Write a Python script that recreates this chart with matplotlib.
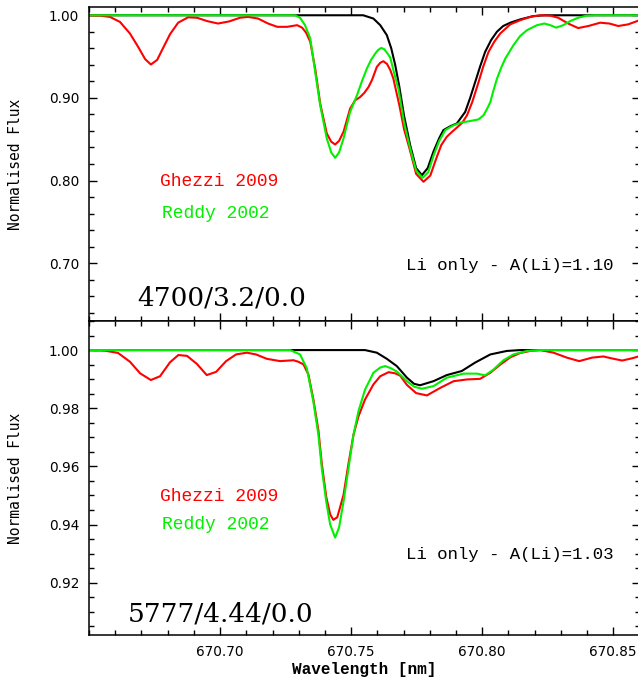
import matplotlib.pyplot as plt
from matplotlib.ticker import MultipleLocator, FormatStrFormatter

# --- top panel: 4700/3.2/0.0 ---
top_li_wl = [670.6500, 670.7546, 670.7585, 670.7611, 670.7636, 670.7653, 670.7668,
             670.7683, 670.7702, 670.7725, 670.7748, 670.7770, 670.7792, 670.7814,
             670.7837, 670.7852, 670.7880, 670.7903, 670.7935, 670.7954, 670.7973,
             670.7992, 670.8011, 670.8034, 670.8056, 670.8080, 670.8107, 670.8145,
             670.8195, 670.8240, 670.8600]
top_li_flux = [1.000, 1.000, 0.996, 0.988, 0.976, 0.960, 0.940,
               0.915, 0.878, 0.843, 0.815, 0.8065, 0.815, 0.835,
               0.852, 0.861, 0.866, 0.869, 0.883, 0.900, 0.919,
               0.938, 0.9556, 0.970, 0.980, 0.987, 0.991, 0.995,
               0.999, 1.000, 1.000]

top_ghezzi_wl = [670.6500, 670.6542, 670.6580, 670.6618, 670.6656, 670.6687, 670.6714,
                 670.6736, 670.6760, 670.6782, 670.6809, 670.6840, 670.6878, 670.6912,
                 670.6950, 670.6992, 670.7034, 670.7076, 670.7107, 670.7145, 670.7183,
                 670.7218, 670.7256, 670.7294, 670.7313, 670.7328, 670.7344, 670.7363,
                 670.7382, 670.7407, 670.7424, 670.7439, 670.7454, 670.7471, 670.7496,
                 670.7515, 670.7534, 670.7550, 670.7566, 670.7580, 670.7598, 670.7611,
                 670.7623, 670.7637, 670.7649, 670.7661, 670.7674, 670.7684, 670.7702,
                 670.7725, 670.7748, 670.7776, 670.7802, 670.7827, 670.7844, 670.7865,
                 670.7885, 670.7903, 670.7924, 670.7942, 670.7962, 670.7986, 670.8004,
                 670.8024, 670.8046, 670.8069, 670.8107, 670.8145, 670.8183, 670.8221,
                 670.8260, 670.8290, 670.8328, 670.8366, 670.8405, 670.8450, 670.8485,
                 670.8519, 670.8557, 670.8600]
top_ghezzi_flux = [1.000, 0.9995, 0.998, 0.992, 0.978, 0.962, 0.947,
                   0.9404, 0.946, 0.960, 0.977, 0.991, 0.9975, 0.997,
                   0.993, 0.990, 0.9925, 0.997, 0.998, 0.996, 0.990,
                   0.986, 0.986, 0.988, 0.985, 0.979, 0.968, 0.935,
                   0.893, 0.857, 0.847, 0.8436, 0.848, 0.859, 0.887,
                   0.897, 0.901, 0.906, 0.913, 0.922, 0.9375, 0.9425,
                   0.9444, 0.941, 0.934, 0.9234, 0.905, 0.891, 0.862,
                   0.836, 0.808, 0.7985, 0.806, 0.8287, 0.843, 0.853,
                   0.859, 0.864, 0.870, 0.879, 0.895, 0.919, 0.938,
                   0.9556, 0.968, 0.978, 0.989, 0.994, 0.998, 1.000,
                   0.9995, 0.997, 0.990, 0.9845, 0.987, 0.991, 0.990,
                   0.987, 0.989, 0.994]

top_reddy_wl = [670.6500, 670.7286, 670.7305, 670.7324, 670.7344, 670.7363, 670.7382,
                670.7407, 670.7424, 670.7439, 670.7454, 670.7471, 670.7496, 670.7522,
                670.7541, 670.7560, 670.7576, 670.7592, 670.7603, 670.7615, 670.7626,
                670.7637, 670.7649, 670.7664, 670.7681, 670.7702, 670.7725, 670.7748,
                670.7772, 670.7794, 670.7814, 670.7836, 670.7859, 670.7885, 670.7916,
                670.7954, 670.7986, 670.8005, 670.8019, 670.8031, 670.8042, 670.8056,
                670.8073, 670.8088, 670.8119, 670.8145, 670.8171, 670.8209, 670.8237,
                670.8260, 670.8282, 670.8309, 670.8336, 670.8366, 670.8397, 670.8431,
                670.8600]
top_reddy_flux = [1.000, 1.000, 0.997, 0.988, 0.972, 0.931, 0.891,
                  0.851, 0.834, 0.8275, 0.834, 0.851, 0.883, 0.903,
                  0.920, 0.9355, 0.946, 0.9537, 0.958, 0.9605, 0.959,
                  0.9545, 0.949, 0.930, 0.910, 0.870, 0.839, 0.812,
                  0.8033, 0.810, 0.830, 0.848, 0.861, 0.866, 0.870,
                  0.872, 0.874, 0.879, 0.887, 0.895, 0.908, 0.923,
                  0.937, 0.9476, 0.9637, 0.975, 0.982, 0.988, 0.990,
                  0.988, 0.985, 0.988, 0.993, 0.997, 0.9995, 1.000,
                  1.000]

# --- bottom panel: 5777/4.44/0.0 ---
bot_li_wl = [670.6500, 670.7553, 670.7598, 670.7636, 670.7674, 670.7713, 670.7740,
             670.7763, 670.7814, 670.7865, 670.7922, 670.7973, 670.8031, 670.8094,
             670.8145, 670.8600]
bot_li_flux = [1.0000, 1.0000, 0.9991, 0.9970, 0.9945, 0.9905, 0.9884,
               0.9879, 0.9893, 0.9914, 0.9928, 0.9957, 0.9985, 0.9997,
               1.0000, 1.0000]

bot_ghezzi_wl = [670.6500, 670.6561, 670.6611, 670.6656, 670.6695, 670.6736, 670.6771,
                 670.6809, 670.6841, 670.6874, 670.6912, 670.6949, 670.6985, 670.7023,
                 670.7061, 670.7102, 670.7137, 670.7178, 670.7229, 670.7280, 670.7298,
                 670.7318, 670.7337, 670.7356, 670.7375, 670.7388, 670.7405, 670.7420,
                 670.7432, 670.7447, 670.7458, 670.7471, 670.7490, 670.7509, 670.7528,
                 670.7553, 670.7585, 670.7611, 670.7643, 670.7668, 670.7687, 670.7713,
                 670.7748, 670.7789, 670.7840, 670.7891, 670.7942, 670.7992, 670.8031,
                 670.8069, 670.8107, 670.8145, 670.8183, 670.8221, 670.8272, 670.8323,
                 670.8370, 670.8419, 670.8462, 670.8496, 670.8534, 670.8573, 670.8600]
bot_ghezzi_flux = [1.0000, 0.9998, 0.9990, 0.9960, 0.9920, 0.9897, 0.9910,
                   0.9958, 0.9983, 0.9980, 0.9952, 0.9914, 0.9925, 0.9962,
                   0.9985, 0.9991, 0.9985, 0.9970, 0.9962, 0.9965, 0.9960,
                   0.9951, 0.9916, 0.9830, 0.9725, 0.9610, 0.9495, 0.9435,
                   0.9416, 0.9425, 0.9460, 0.9502, 0.9610, 0.9709, 0.9772,
                   0.9830, 0.9882, 0.9910, 0.9924, 0.9920, 0.9912, 0.9880,
                   0.9852, 0.9844, 0.9870, 0.9893, 0.9899, 0.9901, 0.9922,
                   0.9950, 0.9975, 0.9990, 0.9997, 1.0000, 0.9991, 0.9974,
                   0.9962, 0.9974, 0.9978, 0.9971, 0.9964, 0.9972, 0.9979]

bot_reddy_wl = [670.6500, 670.7267, 670.7305, 670.7331, 670.7356, 670.7375, 670.7388,
                670.7405, 670.7420, 670.7439, 670.7454, 670.7471, 670.7490, 670.7509,
                670.7528, 670.7553, 670.7585, 670.7611, 670.7630, 670.7653, 670.7676,
                670.7713, 670.7740, 670.7770, 670.7814, 670.7865, 670.7929, 670.7980,
                670.8011, 670.8043, 670.8081, 670.8119, 670.8171, 670.8221, 670.8600]
bot_reddy_flux = [1.0000, 1.0000, 0.9985, 0.9937, 0.9822, 0.9709, 0.9594,
                  0.9479, 0.9400, 0.9355, 0.9390, 0.9479, 0.9594, 0.9709,
                  0.9790, 0.9864, 0.9922, 0.9940, 0.9945, 0.9937, 0.9925,
                  0.9893, 0.9874, 0.9867, 0.9876, 0.9905, 0.9919, 0.9919,
                  0.9913, 0.9933, 0.9965, 0.9985, 0.9997, 1.0000, 1.0000]

x_ticks = [670.70, 670.75, 670.80, 670.85]
top_ticks = [1.00, 0.90, 0.80, 0.70]
bot_ticks = [1.00, 0.98, 0.96, 0.94, 0.92]

RED = '#ff0000'
GREEN = '#00f000'
LW = 1.5

fig = plt.figure(figsize=(6.38, 6.82), dpi=100)
W, H = 638.0, 682.0
ax1 = fig.add_axes([89 / W, 1 - 321 / H, (639.5 - 89) / W, (321 - 7) / H])
ax2 = fig.add_axes([89 / W, 1 - 635 / H, (639.5 - 89) / W, (635 - 321) / H])

for ax in (ax1, ax2):
    ax.set_xlim(670.65, 670.86)
    ax.set_xticks(x_ticks)
    ax.xaxis.set_minor_locator(MultipleLocator(0.01))
    ax.xaxis.set_major_formatter(FormatStrFormatter('%.2f'))
    ax.yaxis.set_major_formatter(FormatStrFormatter('%.2f'))
    ax.tick_params(which='both', direction='in', top=True, right=True, width=1.0,
                   labelsize=9.8)
    ax.tick_params(axis='x', pad=7)
    ax.tick_params(axis='y', pad=7)
    ax.tick_params(which='major', length=5.5)
    ax.tick_params(which='minor', length=3.5)
    for s in ax.spines.values():
        s.set_linewidth(1.1)

ax1.plot(top_li_wl, top_li_flux, color='black', lw=LW)
ax1.plot(top_ghezzi_wl, top_ghezzi_flux, color=RED, lw=LW)
ax1.plot(top_reddy_wl, top_reddy_flux, color=GREEN, lw=LW)
ax1.set_ylim(0.63, 1.01)
ax1.set_yticks(top_ticks)
ax1.yaxis.set_minor_locator(MultipleLocator(0.02))
ax1.tick_params(labelbottom=False)

ax2.plot(bot_li_wl, bot_li_flux, color='black', lw=LW)
ax2.plot(bot_ghezzi_wl, bot_ghezzi_flux, color=RED, lw=LW)
ax2.plot(bot_reddy_wl, bot_reddy_flux, color=GREEN, lw=LW)
ax2.set_ylim(0.902, 1.010)
ax2.set_yticks(bot_ticks)
ax2.yaxis.set_minor_locator(MultipleLocator(0.005))

for ax in (ax1, ax2):
    ax.set_ylabel('Normalised Flux', family='DejaVu Sans Mono', fontsize=10.5)
    ax.yaxis.set_label_coords(-0.120, 0.5)

ax2.set_xlabel('Wavelength [nm]', family='Liberation Mono', fontsize=11.5,
               fontweight='bold')
ax2.xaxis.set_label_coords(0.5, -0.085)

mono = 'Liberation Mono'
ax1.text(670.6771, 0.7984, 'Ghezzi 2009', color=RED, family=mono, fontsize=13,
         va='center', ha='left')
ax1.text(670.6779, 0.7606, 'Reddy 2002', color=GREEN, family=mono, fontsize=13,
         va='center', ha='left')
ax1.text(670.85, 0.6977, 'Li only - A(Li)=1.10', family=mono, fontsize=12.5,
         va='center', ha='right')
ax1.text(670.6683, 0.6493, '4700/3.2/0.0', family='DejaVu Serif', fontsize=19,
         va='baseline', ha='left')

ax2.text(670.6771, 0.94966, 'Ghezzi 2009', color=RED, family=mono, fontsize=13,
         va='center', ha='left')
ax2.text(670.6779, 0.9399, 'Reddy 2002', color=GREEN, family=mono, fontsize=13,
         va='center', ha='left')
ax2.text(670.85, 0.92955, 'Li only - A(Li)=1.03', family=mono, fontsize=12.5,
         va='center', ha='right')
ax2.text(670.6649, 0.9066, '5777/4.44/0.0', family='DejaVu Serif', fontsize=19,
         va='baseline', ha='left')

fig.savefig('out.png', dpi=100)
